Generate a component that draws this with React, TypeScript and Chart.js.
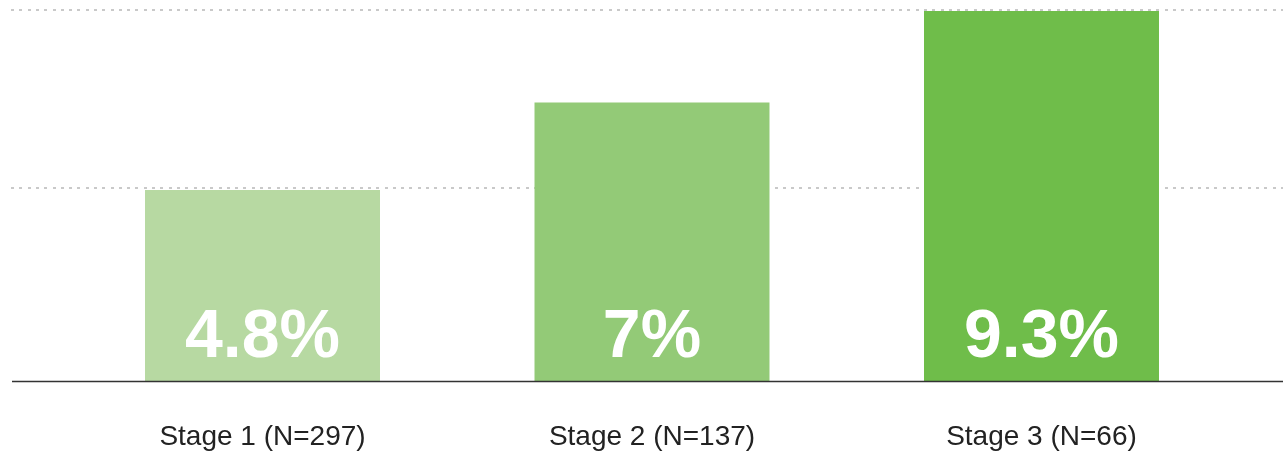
import React, { useEffect, useRef } from 'react';
import { Chart, registerables } from 'chart.js';

Chart.register(...registerables);

const categories = ['Stage 1 (N=297)', 'Stage 2 (N=137)', 'Stage 3 (N=66)'];
const values = [4.8, 7, 9.3];
const valueLabels = ['4.8%', '7%', '9.3%'];
const barColors = ['#b7d9a2', '#93ca77', '#6fbd4a'];
const gridValues = [4.85, 9.33];
const yMax = 9.575;

const FONT = '"Liberation Sans", Arial, Helvetica, sans-serif';

const decorPlugin = {
  id: 'decor',
  beforeDatasetsDraw(chart: any) {
    const { ctx, scales } = chart;
    const y = scales.y;
    ctx.save();
    ctx.fillStyle = '#c9c9c9';
    gridValues.forEach((v) => {
      const py = Math.round(y.getPixelForValue(v));
      for (let x = 11; x < chart.width; x += 8.3) {
        ctx.fillRect(Math.round(x), py - 1, 3, 2);
      }
    });
    ctx.restore();
  },
  afterDatasetsDraw(chart: any) {
    const { ctx, scales } = chart;
    const y = scales.y;
    const meta = chart.getDatasetMeta(0);
    ctx.save();
    ctx.fillStyle = '#ffffff';
    ctx.font = `bold 68px ${FONT}`;
    ctx.textAlign = 'center';
    ctx.textBaseline = 'alphabetic';
    meta.data.forEach((bar: any, i: number) => {
      ctx.fillText(valueLabels[i], bar.x, bar.base - 24);
    });
    const base = y.getPixelForValue(0);
    ctx.strokeStyle = '#333333';
    ctx.lineWidth = 1.6;
    ctx.beginPath();
    ctx.moveTo(12, base + 0.5);
    ctx.lineTo(chart.width, base + 0.5);
    ctx.stroke();
    ctx.restore();
  },
};

export default function App() {
  const ref = useRef<HTMLCanvasElement>(null);

  useEffect(() => {
    document.body.style.margin = '0';
    const chart = new Chart(ref.current as HTMLCanvasElement, {
      type: 'bar',
      data: {
        labels: categories,
        datasets: [
          {
            data: values,
            backgroundColor: barColors,
            borderWidth: 0,
            categoryPercentage: 0.6033,
            barPercentage: 1,
          },
        ],
      },
      options: {
        animation: false,
        responsive: false,
        devicePixelRatio: 1,
        layout: { padding: { left: 67.75, right: 46.75, top: 0, bottom: 0 } },
        plugins: { legend: { display: false }, tooltip: { enabled: false } },
        scales: {
          x: {
            grid: { display: false, drawTicks: false },
            border: { display: false },
            ticks: {
              color: '#222222',
              font: { family: FONT, size: 28 },
              padding: 39,
              maxRotation: 0,
              autoSkip: false,
            },
            afterFit(scale: any) {
              scale.height = 72;
            },
          },
          y: {
            display: false,
            min: 0,
            max: yMax,
          },
        },
      },
      plugins: [decorPlugin],
    });
    return () => chart.destroy();
  }, []);

  return (
    <div style={{ width: 1283, height: 453 }}>
      <canvas ref={ref} width={1283} height={453} style={{ display: 'block' }} />
    </div>
  );
}
